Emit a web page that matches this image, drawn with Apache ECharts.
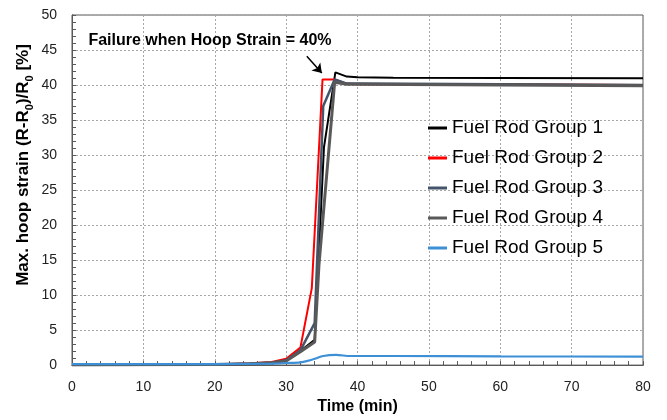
<!DOCTYPE html>
<html><head><meta charset="utf-8">
<script src="https://cdn.jsdelivr.net/npm/echarts@6/dist/echarts.min.js"></script>
<style>html,body{margin:0;padding:0;background:#fff}#c{width:667px;height:420px}</style>
</head><body><div id="c"></div>
<script>
// ---- data ----
const seriesNames = ['Fuel Rod Group 1','Fuel Rod Group 2','Fuel Rod Group 3','Fuel Rod Group 4','Fuel Rod Group 5'];
const xTicks = [0,10,20,30,40,50,60,70,80];
const yTicks = [0,5,10,15,20,25,30,35,40,45,50];

const t1 = [0, 20, 25, 28, 30, 32, 34, 35.3, 36.9, 38.5, 40, 45, 60, 80];
const s1 = [0, 0.1, 0.2, 0.35, 0.7, 2.0, 3.6, 31.1, 41.8, 41.2, 41.1, 41.05, 41.0, 40.95];

const t2 = [0, 20, 25, 28, 30, 32, 33.6, 35.1, 36.8, 38.5, 40, 60, 80];
const s2 = [0, 0.1, 0.25, 0.45, 0.9, 2.5, 11.0, 40.8, 40.8, 40.2, 40.1, 40.1, 40.0];

const t3 = [0, 20, 25, 28, 30, 32, 34, 35.2, 36.8, 38.5, 40, 60, 80];
const s3 = [0, 0.1, 0.2, 0.35, 0.7, 2.1, 6.0, 37.0, 40.8, 40.2, 40.2, 40.1, 40.0];

const t4 = [0, 20, 25, 28, 30, 32, 34, 34.6, 36.8, 38.5, 40, 60, 80];
const s4 = [0, 0.1, 0.2, 0.35, 0.6, 1.9, 3.3, 14.3, 40.4, 40.1, 40.1, 40.0, 39.9];

const t5 = [0, 20, 28, 30, 32, 33, 34, 35.2, 37, 39, 45, 60, 80];
const s5 = [0.15, 0.15, 0.2, 0.3, 0.4, 0.6, 0.9, 1.3, 1.45, 1.3, 1.3, 1.25, 1.2];

// annotation arrow (data units)
const arrowFrom = [32.9, 44.1];
const arrowTo = [35.0, 41.7];

// ---- styles ----
const FONT = 'Liberation Sans';
const colors = ['#000000','#ff0000','#44546a','#595959','#3d8fd6'];
const widths = [2, 2, 2.5, 3, 2.2];
const pair = (t, s) => t.map((x, i) => [x, s[i]]);
const dataSets = [pair(t1,s1), pair(t2,s2), pair(t3,s3), pair(t4,s4), pair(t5,s5)];

const chart = echarts.init(document.getElementById('c'));
const axisCol = '#595959';
const series = dataSets.map((d, i) => ({
  name: seriesNames[i], type: 'line', data: d, symbol: 'none', smooth: i === 4 ? 0.3 : false,
  lineStyle: {color: colors[i], width: widths[i]}, itemStyle: {color: colors[i]}, z: 3 + i
}));
series[0].markLine = {
  silent: true, symbol: ['none', 'arrow'], symbolSize: 9, animation: false,
  lineStyle: {color: '#000', width: 1.5, type: 'solid'}, label: {show: false},
  data: [[{coord: arrowFrom}, {coord: arrowTo}]]
};

chart.setOption({
  animation: false,
  backgroundColor: '#fff',
  grid: {left: 72, right: 24, top: 15, bottom: 52, show: true, borderColor: axisCol, borderWidth: 1},
  xAxis: [{
    type: 'value', min: xTicks[0], max: xTicks[xTicks.length-1], interval: 10,
    name: 'Time (min)', nameLocation: 'middle', nameGap: 33,
    nameTextStyle: {fontFamily: FONT, fontSize: 16, fontWeight: 'bold', color: '#000'},
    axisLine: {show: true, onZero: false, lineStyle: {color: axisCol}},
    axisTick: {show: true, inside: true, length: 4, lineStyle: {color: axisCol}},
    minorTick: {show: true, splitNumber: 5, length: 4, lineStyle: {color: axisCol}},
    axisLabel: {margin: 15, fontFamily: FONT, fontSize: 14, color: '#222'},
    splitLine: {show: true, lineStyle: {color: '#a6a6a6', type: [2, 2]}}
  }, {
    type: 'value', position: 'top', min: 0, max: 80, interval: 10,
    axisLine: {show: true, lineStyle: {color: axisCol}}, axisTick: {show: false}, axisLabel: {show: false}, splitLine: {show: false}
  }],
  yAxis: [{
    type: 'value', min: yTicks[0], max: yTicks[yTicks.length-1], interval: 5,
    axisLine: {show: true, onZero: false, lineStyle: {color: axisCol}},
    axisTick: {show: true, inside: true, length: 4, lineStyle: {color: axisCol}},
    minorTick: {show: true, splitNumber: 5, length: 4, lineStyle: {color: axisCol}},
    axisLabel: {margin: 15, fontFamily: FONT, fontSize: 14, color: '#222'},
    splitLine: {show: true, lineStyle: {color: '#a6a6a6', type: [2, 2]}}
  }, {
    type: 'value', position: 'right', min: 0, max: 50, interval: 5,
    axisLine: {show: true, lineStyle: {color: axisCol}}, axisTick: {show: false}, axisLabel: {show: false}, splitLine: {show: false}
  }],
  legend: {
    orient: 'vertical', left: 423, top: 113, padding: 5, itemWidth: 19, itemHeight: 3, icon: 'rect', itemGap: 10,
    textStyle: {fontFamily: FONT, fontSize: 19, color: '#000', lineHeight: 20},
    data: seriesNames
  },
  graphic: [{
    type: 'text', x: 210, y: 41, z: 10,
    style: {text: 'Failure when Hoop Strain = 40%', font: 'bold 16px "Liberation Sans"', fill: '#000', align: 'center', verticalAlign: 'middle'}
  }, {
    type: 'text', x: 23, y: 165, rotation: Math.PI / 2, z: 10,
    style: {
      text: '{b|Max. hoop strain (R-R}{s|0}{b|)/R}{s|0}{b| [%]}',
      align: 'center', verticalAlign: 'middle',
      rich: {
        b: {fontFamily: FONT, fontSize: 17, fontWeight: 'bold', fill: '#000', lineHeight: 24, verticalAlign: 'middle'},
        s: {fontFamily: FONT, fontSize: 11, fontWeight: 'bold', fill: '#000', lineHeight: 24, verticalAlign: 'bottom'}
      }
    }
  }],
  series: series
});
</script>
</body></html>
